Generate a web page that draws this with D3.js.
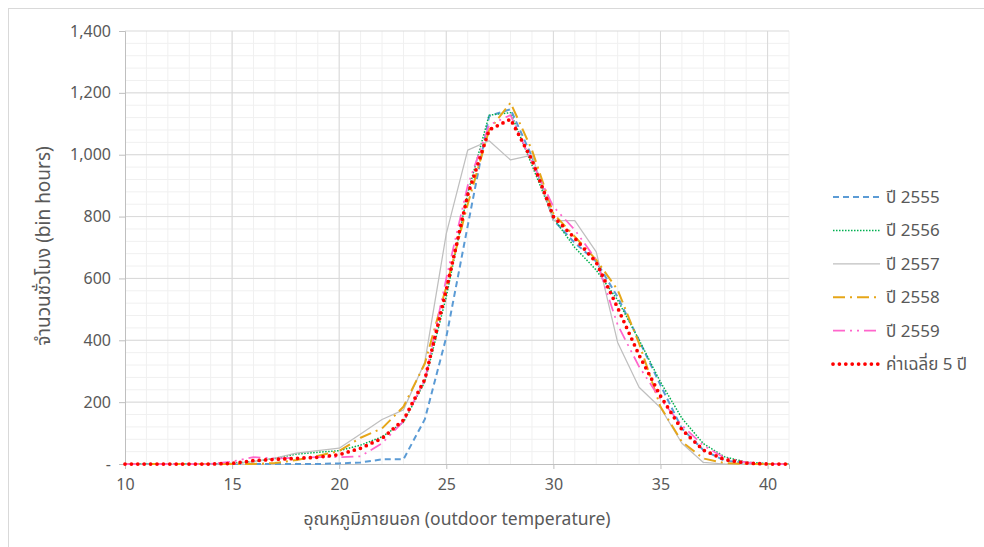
<!DOCTYPE html>
<html>
<head>
<meta charset="utf-8">
<script src="https://cdn.jsdelivr.net/npm/d3@7"></script>
<style>
  body { margin: 0; background: #fff; }
  text { font-family: "Noto Sans Thai", "Liberation Sans Narrow", "Noto Sans", sans-serif; fill: #595959; }
</style>
</head>
<body>
<div id="chart"></div>
<script>
// temperature bins (°C)
const temps = d3.range(10, 42);

// hours per bin
const y2555 = [0,0,0,0,0,0,0,0,0,0,2,5,15,15,145,410,770,1125,1147,994,789,715,655,540,400,255,115,45,11,3,0,0];
const y2556 = [0,0,0,0,0,2,8,18,32,38,43,61,88,135,266,541,875,1128,1136,966,795,700,627,530,401,265,148,66,23,6,1,0];
const y2557 = [0,0,0,0,0,0,8,19,35,43,51,97,144,175,330,745,1015,1045,983,999,787,787,686,393,248,182,67,5,0,0,0,0];
const y2558 = [0,0,0,0,0,0,0,3,13,26,42,85,115,185,325,573,840,1080,1168,1015,810,735,660,563,390,185,72,18,3,0,0,0];
const y2559 = [0,0,0,0,0,8,22,18,20,22,22,25,67,138,271,600,900,1096,1128,975,832,757,660,450,315,210,125,60,20,5,0,0];
const yAvg  = [0,0,0,0,0,2,11,15,18,22,30,51,83,142,274,563,870,1080,1115,983,800,730,652,505,352,220,111,45,14,3,0,0];

const seriesNames = ["ปี 2555", "ปี 2556", "ปี 2557", "ปี 2558", "ปี 2559", "ค่าเฉลี่ย 5 ปี"];
const seriesValues = [y2555, y2556, y2557, y2558, y2559, yAvg];

const xTicks = [10, 15, 20, 25, 30, 35, 40];
const yTicks = [0, 200, 400, 600, 800, 1000, 1200, 1400];

const styles = [
  { color: "#5B9BD5", width: 2,   dash: "6,4",            cap: "butt" },
  { color: "#00B050", width: 1.5, dash: "1.5,1.5",        cap: "butt" },
  { color: "#BFBFBF", width: 1.25, dash: null,            cap: "butt" },
  { color: "#E6A618", width: 2,   dash: "12,5,2,5",       cap: "butt" },
  { color: "#FF66CC", width: 1.75, dash: "12,5,2,5,2,5",  cap: "butt" },
  { color: "#FF0000", width: 3.75, dash: "0,6.4",         cap: "round" }
];

const W = 984, H = 547;
const plot = { left: 125, right: 789, top: 31, bottom: 464 };

const svg = d3.select("#chart").append("svg")
  .attr("width", W)
  .attr("height", H);

// chart frame
svg.append("rect")
  .attr("x", 8.5).attr("y", 8.5)
  .attr("width", W).attr("height", H)
  .attr("fill", "none")
  .attr("stroke", "#D9D9D9");

const x = d3.scaleLinear().domain([10, 41]).range([plot.left, plot.right]);
const y = d3.scaleLinear().domain([0, 1400]).range([plot.bottom, plot.top]);

// minor grid
const g = svg.append("g");
g.selectAll(".vminor")
  .data(d3.range(11, 42))
  .join("line")
  .attr("x1", d => x(d)).attr("x2", d => x(d))
  .attr("y1", plot.top).attr("y2", plot.bottom)
  .attr("stroke", "#F0F0F0");
g.selectAll(".hminor")
  .data(d3.range(40, 1400, 40))
  .join("line")
  .attr("class", "hminor")
  .attr("x1", plot.left).attr("x2", plot.right)
  .attr("y1", d => y(d)).attr("y2", d => y(d))
  .attr("stroke", "#F0F0F0");

// major grid
g.selectAll(".vmajor")
  .data(xTicks.slice(1))
  .join("line")
  .attr("class", "vmajor")
  .attr("x1", d => x(d)).attr("x2", d => x(d))
  .attr("y1", plot.top).attr("y2", plot.bottom)
  .attr("stroke", "#D9D9D9");
g.selectAll(".hmajor")
  .data(yTicks.slice(1))
  .join("line")
  .attr("class", "hmajor")
  .attr("x1", plot.left).attr("x2", plot.right)
  .attr("y1", d => y(d)).attr("y2", d => y(d))
  .attr("stroke", "#D9D9D9");

// axes
const fmt = d => d === 0 ? "-" : d3.format(",")(d);

const yAxis = svg.append("g")
  .attr("transform", `translate(${plot.left},0)`)
  .call(d3.axisLeft(y).tickValues(yTicks).tickFormat(fmt).tickSize(6).tickPadding(8));
yAxis.select(".domain").attr("stroke", "#BFBFBF");
yAxis.selectAll(".tick line").attr("stroke", "#BFBFBF");
yAxis.selectAll("text").style("font-size", "16px").attr("fill", "#595959");

const xAxis = svg.append("g")
  .attr("transform", `translate(0,${plot.bottom})`)
  .call(d3.axisBottom(x).tickValues(xTicks).tickFormat(d3.format("d")).tickSize(5).tickPadding(10));
xAxis.select(".domain").attr("stroke", "#BFBFBF");
xAxis.selectAll(".tick line").attr("stroke", "#BFBFBF");
xAxis.selectAll("text").style("font-size", "16px").attr("fill", "#595959");

// axis titles
svg.append("text")
  .attr("x", 457).attr("y", 525)
  .attr("text-anchor", "middle")
  .style("font-size", "17.5px")
  .text("อุณหภูมิภายนอก (outdoor temperature)");

svg.append("text")
  .attr("transform", "translate(50,246) rotate(-90)")
  .attr("text-anchor", "middle")
  .style("font-size", "19px")
  .text("จำนวนชั่วโมง (bin hours)");

// lines
const line = d3.line()
  .x((d, i) => x(temps[i]))
  .y(d => y(d));

svg.append("g")
  .selectAll("path")
  .data(seriesValues)
  .join("path")
  .attr("d", line)
  .attr("fill", "none")
  .attr("stroke", (d, i) => styles[i].color)
  .attr("stroke-width", (d, i) => styles[i].width)
  .attr("stroke-dasharray", (d, i) => styles[i].dash)
  .attr("stroke-linecap", (d, i) => styles[i].cap)
  .attr("stroke-linejoin", "round");

// legend
const legend = svg.append("g")
  .selectAll("g")
  .data(seriesNames)
  .join("g")
  .attr("transform", (d, i) => `translate(833,${197 + i * 33.4})`);

legend.append("line")
  .attr("x1", 0).attr("x2", 47)
  .attr("stroke", (d, i) => styles[i].color)
  .attr("stroke-width", (d, i) => styles[i].width)
  .attr("stroke-dasharray", (d, i) => styles[i].dash)
  .attr("stroke-linecap", (d, i) => styles[i].cap);

legend.append("text")
  .attr("x", 53)
  .attr("dy", "0.35em")
  .style("font-size", "17px")
  .text(d => d);
</script>
</body>
</html>
